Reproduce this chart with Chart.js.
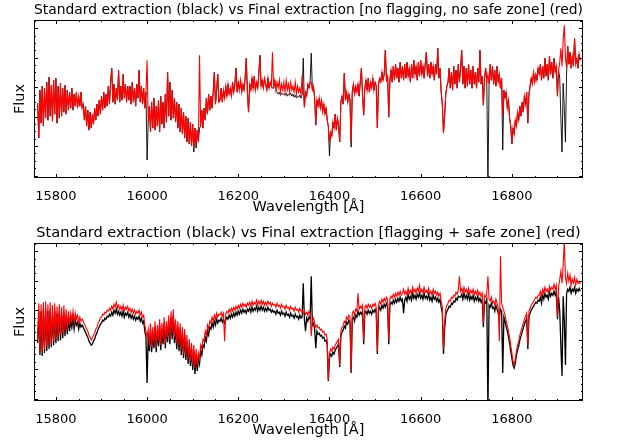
<!DOCTYPE html>
<html>
<head>
<meta charset="utf-8">
<script src="https://cdn.jsdelivr.net/npm/chart.js@4.4.0/dist/chart.umd.min.js"></script>
<style>
body { margin: 0; background: #fff; }
.panel { position: absolute; left: 0; width: 620px; height: 223px; }
</style>
</head>
<body>
<div class="panel" style="top:0"><canvas id="topPanel" width="620" height="223"></canvas></div>
<div class="panel" style="top:223px"><canvas id="bottomPanel" width="620" height="223"></canvas></div>
<script>
// wavelength grid (Angstrom), one row = 100 A
var wavelength = [
  15760,15762.5,15765,15767.5,15770,15772.5,15775,15777.5,15780,15782.5,15785,15787.5,15790,15792.5,15795,15797.5,15800,15802.5,15805,15807.5,15810,15812.5,15815,15817.5,15820,15822.5,15825,15827.5,15830,15832.5,15835,15837.5,15840,15842.5,15845,15847.5,15850,15852.5,15855,15857.5,
  15860,15862.5,15865,15867.5,15870,15872.5,15875,15877.5,15880,15882.5,15885,15887.5,15890,15892.5,15895,15897.5,15900,15902.5,15905,15907.5,15910,15912.5,15915,15917.5,15920,15922.5,15925,15927.5,15930,15932.5,15935,15937.5,15940,15942.5,15945,15947.5,15950,15952.5,15955,15957.5,
  15960,15962.5,15965,15967.5,15970,15972.5,15975,15977.5,15980,15982.5,15985,15987.5,15990,15992.5,15995,15997.5,16000,16002.5,16005,16007.5,16010,16012.5,16015,16017.5,16020,16022.5,16025,16027.5,16030,16032.5,16035,16037.5,16040,16042.5,16045,16047.5,16050,16052.5,16055,16057.5,
  16060,16062.5,16065,16067.5,16070,16072.5,16075,16077.5,16080,16082.5,16085,16087.5,16090,16092.5,16095,16097.5,16100,16102.5,16105,16107.5,16110,16112.5,16115,16117.5,16120,16122.5,16125,16127.5,16130,16132.5,16135,16137.5,16140,16142.5,16145,16147.5,16150,16152.5,16155,16157.5,
  16160,16162.5,16165,16167.5,16170,16172.5,16175,16177.5,16180,16182.5,16185,16187.5,16190,16192.5,16195,16197.5,16200,16202.5,16205,16207.5,16210,16212.5,16215,16217.5,16220,16222.5,16225,16227.5,16230,16232.5,16235,16237.5,16240,16242.5,16245,16247.5,16250,16252.5,16255,16257.5,
  16260,16262.5,16265,16267.5,16270,16272.5,16275,16277.5,16280,16282.5,16285,16287.5,16290,16292.5,16295,16297.5,16300,16302.5,16305,16307.5,16310,16312.5,16315,16317.5,16320,16322.5,16325,16327.5,16330,16332.5,16335,16337.5,16340,16342.5,16345,16347.5,16350,16352.5,16355,16357.5,
  16360,16362.5,16365,16367.5,16370,16372.5,16375,16377.5,16380,16382.5,16385,16387.5,16390,16392.5,16395,16397.5,16400,16402.5,16405,16407.5,16410,16412.5,16415,16417.5,16420,16422.5,16425,16427.5,16430,16432.5,16435,16437.5,16440,16442.5,16445,16447.5,16450,16452.5,16455,16457.5,
  16460,16462.5,16465,16467.5,16470,16472.5,16475,16477.5,16480,16482.5,16485,16487.5,16490,16492.5,16495,16497.5,16500,16502.5,16505,16507.5,16510,16512.5,16515,16517.5,16520,16522.5,16525,16527.5,16530,16532.5,16535,16537.5,16540,16542.5,16545,16547.5,16550,16552.5,16555,16557.5,
  16560,16562.5,16565,16567.5,16570,16572.5,16575,16577.5,16580,16582.5,16585,16587.5,16590,16592.5,16595,16597.5,16600,16602.5,16605,16607.5,16610,16612.5,16615,16617.5,16620,16622.5,16625,16627.5,16630,16632.5,16635,16637.5,16640,16642.5,16645,16647.5,16650,16652.5,16655,16657.5,
  16660,16662.5,16665,16667.5,16670,16672.5,16675,16677.5,16680,16682.5,16685,16687.5,16690,16692.5,16695,16697.5,16700,16702.5,16705,16707.5,16710,16712.5,16715,16717.5,16720,16722.5,16725,16727.5,16730,16732.5,16735,16737.5,16740,16742.5,16745,16747.5,16750,16752.5,16755,16757.5,
  16760,16762.5,16765,16767.5,16770,16772.5,16775,16777.5,16780,16782.5,16785,16787.5,16790,16792.5,16795,16797.5,16800,16802.5,16805,16807.5,16810,16812.5,16815,16817.5,16820,16822.5,16825,16827.5,16830,16832.5,16835,16837.5,16840,16842.5,16845,16847.5,16850,16852.5,16855,16857.5,
  16860,16862.5,16865,16867.5,16870,16872.5,16875,16877.5,16880,16882.5,16885,16887.5,16890,16892.5,16895,16897.5,16900,16902.5,16905,16907.5,16910,16912.5,16915,16917.5,16920,16922.5,16925,16927.5,16930,16932.5,16935,16937.5,16940,16942.5,16945,16947.5,16950
];

// top panel: final extraction, no flagging / no safe zone (red)
var finalNoFlag = [
  0.75,0.40,0.88,0.55,0.92,0.52,0.90,0.60,0.96,0.58,1.01,0.62,0.93,0.57,0.98,0.64,1.00,0.55,0.92,0.60,0.95,0.62,0.90,0.66,0.93,0.64,0.88,0.68,0.86,0.70,0.90,0.68,0.84,0.72,0.86,0.70,0.82,0.72,0.86,0.70,
  0.74,0.58,0.72,0.52,0.68,0.48,0.66,0.50,0.64,0.54,0.70,0.58,0.74,0.62,0.78,0.64,0.82,0.68,0.86,0.70,0.84,0.72,0.92,0.74,0.96,1.10,0.76,0.94,0.74,0.90,0.78,1.08,0.76,0.92,0.78,1.04,0.80,0.94,0.76,0.92,
  0.78,0.92,0.74,0.96,0.76,0.90,0.72,0.94,0.80,1.08,0.76,0.92,0.74,0.90,0.70,0.86,1.18,0.56,0.72,0.46,0.76,0.50,0.80,0.48,0.72,0.52,0.78,0.46,0.82,0.54,0.76,0.50,0.84,0.56,1.06,0.62,0.96,0.58,0.88,0.60,
  0.80,0.56,0.76,0.50,0.74,0.46,0.70,0.44,0.66,0.40,0.62,0.36,0.60,0.34,0.56,0.32,0.54,0.30,0.50,0.33,0.48,0.36,1.23,0.52,0.68,0.50,0.70,0.58,0.80,0.64,0.84,0.68,0.82,0.70,0.86,1.06,0.74,0.88,1.04,0.76,
  0.78,0.90,0.76,0.88,0.80,0.92,0.82,0.94,0.84,0.90,0.82,0.96,0.86,0.94,1.10,0.86,0.96,0.88,0.98,0.86,0.94,0.88,1.00,1.20,0.86,0.66,0.94,0.88,1.00,0.90,1.02,0.88,0.96,0.90,1.04,1.23,0.92,0.98,0.90,1.00,
  0.94,0.88,1.00,0.90,0.96,0.92,1.26,0.90,0.98,0.88,0.96,0.90,0.98,0.86,0.94,0.88,0.96,0.86,0.98,0.88,0.94,0.86,0.96,0.88,0.92,0.86,0.96,0.84,0.92,0.86,0.90,0.84,1.03,0.88,0.71,0.86,0.82,0.94,0.90,0.96,
  0.96,0.88,0.92,0.80,0.53,0.78,0.72,0.80,0.70,0.78,0.66,0.74,0.64,0.70,0.58,0.52,0.36,0.46,0.42,0.56,0.50,0.64,0.48,0.60,0.52,0.36,0.76,0.82,0.74,1.05,0.78,0.86,0.76,0.84,0.78,0.36,0.86,0.94,0.84,0.92,
  0.86,0.94,0.82,0.96,1.10,0.84,0.63,0.90,0.98,0.88,1.00,0.86,0.96,0.90,1.00,0.88,0.96,0.92,0.50,0.94,1.00,0.96,1.06,0.98,1.04,1.28,0.98,1.02,0.61,0.98,1.08,0.96,1.12,0.98,1.14,1.00,1.10,0.96,1.16,1.00,
  1.12,0.98,1.14,1.00,1.16,1.02,1.10,0.96,1.14,1.00,1.18,1.04,1.12,0.98,1.16,1.02,1.18,1.04,1.12,1.00,1.14,1.26,1.02,1.14,1.00,1.16,1.04,1.12,0.98,1.14,1.04,1.30,1.00,1.10,0.86,0.74,0.45,0.62,0.84,0.92,
  0.96,1.10,0.90,1.06,0.88,1.12,0.94,1.08,0.90,1.14,0.96,1.10,1.28,0.94,1.12,0.90,1.10,0.92,1.14,0.94,1.08,0.90,1.12,0.94,1.06,0.90,1.10,0.96,1.28,0.94,1.02,0.73,1.00,1.10,0.96,1.04,0.94,1.14,0.98,1.12,
  0.94,1.08,0.92,1.12,0.96,1.04,0.90,1.00,0.62,0.88,0.80,0.86,0.70,0.78,0.60,0.52,0.34,0.50,0.44,0.58,0.52,0.66,0.58,0.72,0.62,0.76,0.66,0.82,0.74,0.86,0.55,0.84,0.92,1.00,0.94,1.06,0.96,1.04,0.98,1.10,
  1.04,1.14,0.98,1.12,1.00,1.20,1.02,1.14,0.98,1.22,1.04,1.16,1.00,1.20,1.06,1.12,0.82,1.08,1.16,1.30,1.12,1.38,1.53,1.20,1.10,1.32,1.14,1.26,1.10,1.22,1.12,1.40,1.14,1.20,1.10,1.24,1.18
];

// top panel: standard extraction (black)
var standardTop = [
  0.75,0.40,0.88,0.55,0.92,0.52,0.90,0.60,0.96,0.58,1.01,0.62,0.93,0.57,0.98,0.64,1.00,0.55,0.92,0.60,0.95,0.62,0.90,0.66,0.93,0.64,0.88,0.68,0.86,0.70,0.90,0.68,0.84,0.72,0.86,0.70,0.82,0.72,0.86,0.70,
  0.74,0.58,0.72,0.52,0.68,0.48,0.66,0.50,0.64,0.54,0.70,0.58,0.74,0.62,0.78,0.64,0.82,0.68,0.86,0.70,0.84,0.72,0.92,0.74,0.96,1.10,0.76,0.94,0.74,0.90,0.78,1.08,0.76,0.92,0.78,1.04,0.80,0.94,0.76,0.92,
  0.78,0.92,0.74,0.96,0.76,0.90,0.72,0.94,0.80,1.08,0.76,0.92,0.74,0.90,0.70,0.86,0.18,0.56,0.72,0.46,0.76,0.50,0.80,0.48,0.72,0.52,0.78,0.46,0.82,0.54,0.76,0.50,0.84,0.56,1.06,0.62,0.96,0.58,0.88,0.60,
  0.80,0.56,0.76,0.50,0.74,0.46,0.70,0.44,0.66,0.40,0.62,0.36,0.60,0.34,0.56,0.32,0.54,0.26,0.50,0.30,0.48,0.36,0.50,0.52,0.68,0.50,0.70,0.58,0.80,0.64,0.84,0.68,0.82,0.70,0.86,1.06,0.74,0.88,1.04,0.76,
  0.78,0.90,0.76,0.88,0.80,0.92,0.82,0.94,0.84,0.90,0.82,0.96,0.86,0.94,1.10,0.86,0.96,0.88,0.98,0.86,0.94,0.88,1.00,1.20,0.86,0.66,0.94,0.88,1.00,0.90,1.02,0.88,0.96,0.90,1.04,1.23,0.92,0.98,0.90,1.00,
  0.94,0.88,1.00,0.90,0.96,0.92,0.90,0.90,0.98,0.88,0.86,0.84,0.86,0.83,0.85,0.84,0.84,0.83,0.85,0.82,0.84,0.83,0.85,0.82,0.84,0.81,0.83,0.80,0.82,0.81,0.83,0.80,0.84,1.20,0.71,0.86,0.82,0.94,0.90,0.96,
  1.25,0.88,0.92,0.80,0.53,0.78,0.72,0.80,0.70,0.78,0.66,0.74,0.64,0.70,0.58,0.52,0.22,0.46,0.42,0.56,0.50,0.64,0.48,0.60,0.52,0.36,0.76,0.82,0.74,1.05,0.78,0.86,0.76,0.84,0.78,0.31,0.86,0.94,0.84,0.92,
  0.86,0.94,0.82,0.96,1.10,0.84,0.63,0.90,0.98,0.88,1.00,0.86,0.96,0.90,1.00,0.88,0.96,0.92,0.50,0.94,1.00,0.96,1.06,0.98,1.04,1.28,0.98,1.02,0.61,0.98,1.08,0.96,1.12,0.98,1.14,1.00,1.10,0.96,1.16,1.00,
  1.12,0.98,1.14,1.00,1.16,1.02,1.10,0.96,1.14,1.00,1.18,1.04,1.12,0.98,1.16,1.02,1.18,1.04,1.12,1.00,1.14,1.26,1.02,1.14,1.00,1.16,1.04,1.12,0.98,1.14,1.04,1.30,1.00,1.10,0.86,0.74,0.45,0.62,0.84,0.92,
  0.96,1.10,0.90,1.06,0.88,1.12,0.94,1.08,0.90,1.14,0.96,1.10,1.28,0.94,1.12,0.90,1.10,0.92,1.14,0.94,1.08,0.90,1.12,0.94,1.06,0.90,1.10,0.96,1.28,0.94,1.02,0.73,1.00,1.10,0.96,-0.10,0.94,1.14,0.98,1.12,
  0.94,1.08,0.92,1.12,0.96,1.04,0.90,1.00,0.28,0.88,0.80,0.86,0.70,0.78,0.60,0.52,0.34,0.50,0.44,0.58,0.52,0.66,0.58,0.72,0.62,0.76,0.66,0.82,0.74,0.86,0.55,0.84,0.92,1.00,0.94,1.06,0.96,1.04,0.98,1.10,
  1.04,1.14,0.98,1.12,1.00,1.20,1.02,1.14,0.98,1.22,1.04,1.16,1.00,1.20,1.06,1.12,0.82,1.08,1.00,0.60,0.26,0.95,0.70,0.36,1.05,1.32,1.14,1.26,1.10,1.22,1.12,1.40,1.14,1.20,1.10,1.24,1.18
];

// bottom panel: final extraction, flagging + safe zone (red)
var finalFlag = [
  0.62,0.98,0.50,0.97,0.48,0.99,0.52,1.00,0.54,0.97,0.56,0.99,0.58,0.96,0.60,0.98,0.62,0.95,0.64,0.97,0.66,0.94,0.68,0.96,0.70,0.92,0.72,0.90,0.76,0.88,0.80,0.90,0.78,0.88,0.82,0.86,0.78,0.84,0.80,0.82,
  0.80,0.77,0.75,0.72,0.70,0.66,0.64,0.61,0.63,0.66,0.68,0.72,0.74,0.78,0.80,0.83,0.84,0.87,0.86,0.89,0.88,0.91,0.90,0.93,0.91,0.95,0.92,0.97,0.94,0.99,0.93,0.96,0.92,0.95,0.91,0.96,0.90,0.94,0.92,0.95,
  0.90,0.93,0.89,0.92,0.88,0.91,0.87,0.90,0.88,0.91,0.86,0.89,0.84,0.86,0.76,0.70,0.64,0.72,0.56,0.78,0.54,0.74,0.58,0.80,0.54,0.76,0.60,0.82,0.56,0.78,0.62,0.84,0.58,0.80,0.64,0.86,0.62,0.90,0.68,0.92,
  0.64,0.82,0.58,0.80,0.56,0.78,0.52,0.74,0.48,0.72,0.46,0.66,0.42,0.62,0.40,0.58,0.36,0.56,0.33,0.52,0.36,0.48,0.42,0.56,0.52,0.62,0.60,0.70,0.66,0.76,0.72,0.80,0.78,0.84,0.80,0.86,0.82,0.88,0.84,0.87,
  0.86,0.89,0.85,0.88,0.60,0.87,0.90,0.88,0.92,0.89,0.93,0.90,0.94,0.91,0.95,0.92,0.96,0.93,0.97,0.94,0.98,0.95,0.97,0.94,0.98,0.96,0.99,0.95,1.00,0.96,0.99,0.97,1.01,0.96,1.00,0.97,1.01,0.97,1.00,0.96,
  0.99,0.96,1.00,0.97,0.99,0.95,0.98,0.96,0.97,0.94,0.98,0.95,0.96,0.93,0.97,0.94,0.95,0.92,0.96,0.93,0.94,0.91,0.95,0.92,0.93,0.90,0.94,0.91,0.92,0.89,0.93,0.90,0.91,0.88,0.90,0.87,0.89,0.86,0.90,0.88,
  0.65,0.80,0.83,0.78,0.74,0.76,0.73,0.74,0.71,0.72,0.69,0.70,0.66,0.67,0.62,0.21,0.48,0.52,0.50,0.54,0.52,0.56,0.58,0.60,0.62,0.36,0.70,0.74,0.76,0.80,0.78,0.84,0.82,0.86,0.84,0.30,0.88,0.90,0.86,0.92,
  0.90,1.08,0.92,0.95,0.93,0.96,0.61,0.94,0.96,0.93,0.97,0.94,0.96,0.93,0.97,0.95,0.98,0.94,0.50,0.96,1.00,0.97,1.02,0.99,1.03,1.00,1.04,1.01,0.61,1.02,1.05,1.03,1.07,1.04,1.08,1.05,1.09,1.06,1.10,1.06,
  1.08,1.12,1.07,1.10,1.06,1.13,1.08,1.11,1.07,1.14,1.09,1.12,1.08,1.13,1.10,1.16,1.09,1.12,1.08,1.14,1.09,1.11,1.08,1.13,1.07,1.10,1.06,1.12,1.08,1.10,1.06,1.09,1.05,1.08,1.00,0.94,0.52,0.78,0.92,0.96,
  0.98,1.01,1.00,1.04,1.03,1.06,1.05,1.09,1.07,1.11,1.25,1.10,1.13,1.08,1.14,1.09,1.12,1.08,1.13,1.07,1.11,1.08,1.12,1.06,1.10,1.07,1.11,1.06,1.09,1.05,1.08,0.78,1.06,1.04,1.08,1.25,1.02,1.00,1.04,0.98,
  1.00,0.96,1.02,0.98,0.94,0.60,1.45,0.98,0.94,0.90,0.86,0.80,0.76,0.70,0.64,0.56,0.48,0.40,0.36,0.42,0.50,0.56,0.60,0.66,0.70,0.74,0.78,0.82,0.85,0.88,0.56,0.90,0.93,0.96,0.98,1.00,1.02,1.04,1.03,1.06,
  1.06,1.10,1.04,1.12,1.08,1.14,1.10,1.12,1.08,1.15,1.11,1.14,1.12,1.17,1.12,1.16,0.85,1.14,1.22,1.30,1.18,1.36,1.60,1.24,1.18,1.28,1.20,1.26,1.16,1.22,1.18,1.24,1.16,1.22,1.18,1.20,1.17
];

// bottom panel: standard extraction (black)
var standardBottom = [
  0.58,0.90,0.46,0.90,0.45,0.92,0.48,0.93,0.50,0.90,0.52,0.92,0.54,0.89,0.56,0.90,0.58,0.88,0.60,0.90,0.61,0.87,0.63,0.89,0.65,0.85,0.67,0.83,0.70,0.81,0.74,0.83,0.72,0.81,0.76,0.79,0.72,0.78,0.74,0.76,
  0.74,0.71,0.69,0.66,0.64,0.60,0.58,0.56,0.57,0.60,0.62,0.66,0.68,0.72,0.74,0.77,0.78,0.81,0.80,0.83,0.82,0.85,0.84,0.87,0.85,0.89,0.86,0.91,0.88,0.92,0.87,0.90,0.86,0.89,0.85,0.90,0.84,0.88,0.86,0.89,
  0.84,0.87,0.83,0.86,0.82,0.85,0.81,0.84,0.82,0.85,0.80,0.83,0.78,0.80,0.70,0.64,0.18,0.66,0.50,0.72,0.49,0.68,0.53,0.74,0.49,0.70,0.55,0.76,0.51,0.72,0.57,0.78,0.53,0.74,0.59,0.80,0.57,0.84,0.62,0.86,
  0.58,0.76,0.52,0.74,0.50,0.72,0.46,0.68,0.43,0.66,0.41,0.60,0.37,0.56,0.35,0.52,0.31,0.50,0.27,0.46,0.30,0.43,0.37,0.50,0.46,0.56,0.54,0.64,0.60,0.70,0.66,0.74,0.72,0.78,0.74,0.80,0.76,0.82,0.78,0.81,
  0.80,0.83,0.79,0.82,0.78,0.81,0.84,0.82,0.86,0.83,0.87,0.84,0.88,0.85,0.89,0.86,0.90,0.87,0.91,0.88,0.92,0.89,0.91,0.88,0.92,0.90,0.93,0.89,0.94,0.90,0.93,0.91,0.95,0.90,0.94,0.91,0.95,0.91,0.94,0.90,
  0.93,0.90,0.94,0.91,0.92,0.89,0.91,0.89,0.90,0.87,0.91,0.88,0.89,0.86,0.90,0.87,0.88,0.85,0.89,0.86,0.87,0.84,0.88,0.85,0.86,0.83,0.87,0.84,0.85,0.82,0.86,0.83,0.84,1.18,0.82,0.70,0.83,0.80,0.84,0.82,
  1.25,0.76,0.78,0.72,0.53,0.70,0.67,0.68,0.65,0.66,0.63,0.64,0.60,0.61,0.56,0.20,0.43,0.47,0.45,0.49,0.47,0.51,0.53,0.55,0.57,0.34,0.65,0.69,0.71,0.75,0.73,0.79,0.77,0.81,0.79,0.28,0.82,0.84,0.80,0.86,
  0.84,0.90,0.86,0.89,0.87,0.90,0.57,0.88,0.90,0.87,0.91,0.88,0.90,0.87,0.91,0.89,0.92,0.88,0.47,0.90,0.94,0.91,0.96,0.93,0.97,0.94,0.98,0.95,0.57,0.96,0.99,0.97,1.01,0.98,1.02,0.99,1.03,1.00,1.04,1.00,
  1.02,0.88,1.01,1.04,1.00,1.07,1.02,1.05,1.01,1.08,1.03,1.06,1.02,1.07,1.04,1.08,1.03,1.06,1.02,1.08,1.03,1.05,1.02,1.07,1.01,1.04,1.00,1.06,1.02,1.04,1.00,1.03,0.99,1.02,0.94,0.88,0.47,0.72,0.86,0.90,
  0.92,0.95,0.94,0.98,0.97,1.00,0.99,1.03,1.01,1.05,1.04,1.04,1.07,1.02,1.08,1.03,1.06,1.02,1.07,1.01,1.05,1.02,1.06,1.00,1.04,1.01,1.05,1.00,1.03,0.99,1.02,0.74,1.00,0.98,1.02,-0.10,0.96,0.94,0.98,0.93,
  0.94,0.90,0.96,0.92,0.88,0.84,0.92,0.90,0.28,0.84,0.80,0.74,0.70,0.64,0.58,0.50,0.43,0.36,0.33,0.38,0.46,0.51,0.55,0.61,0.65,0.69,0.73,0.77,0.80,0.83,0.52,0.85,0.88,0.91,0.93,0.95,0.97,0.99,0.98,1.01,
  1.00,1.04,0.98,1.06,1.02,1.08,1.04,1.06,1.02,1.09,1.05,1.08,1.06,1.10,1.06,1.10,0.82,1.04,0.90,0.55,0.25,1.05,0.80,0.36,1.08,1.12,1.10,1.14,1.08,1.12,1.10,1.14,1.08,1.12,1.10,1.13,1.10
];

var xTickValues = [15800, 16000, 16200, 16400, 16600, 16800];
var yTickValues = [0.025, 0.32, 0.615, 0.91, 1.205, 1.50];

Chart.defaults.font.family = 'DejaVu Sans';
Chart.defaults.font.size = 13;
Chart.defaults.color = '#000';

// frame + inward major/minor ticks on all four sides
var frameTicks = {
    id: 'frameTicks',
    afterDatasetsDraw: function(chart) {
        var ctx = chart.ctx, a = chart.chartArea, x = chart.scales.x, y = chart.scales.y;
        ctx.save();
        ctx.strokeStyle = '#000';
        ctx.lineWidth = 1;
        ctx.beginPath();
        for (var v = 15750; v <= 16950; v += 50) {
            if (v < x.min || v > x.max) continue;
            var px = Math.round(x.getPixelForValue(v)) + 0.5;
            var len = (v % 200 === 0) ? 4 : 2;
            ctx.moveTo(px, a.bottom); ctx.lineTo(px, a.bottom - len);
            ctx.moveTo(px, a.top); ctx.lineTo(px, a.top + len);
        }
        var step = (yTickValues[1] - yTickValues[0]) / 4;
        for (var k = -4; k <= 24; k++) {
            var val = yTickValues[0] + k * step;
            if (val < y.min || val > y.max) continue;
            var py = Math.round(y.getPixelForValue(val)) + 0.5;
            var l = (k % 4 === 0) ? 4 : 2;
            ctx.moveTo(a.left, py); ctx.lineTo(a.left + l, py);
            ctx.moveTo(a.right, py); ctx.lineTo(a.right - l, py);
        }
        ctx.stroke();
        ctx.strokeRect(Math.round(a.left) + 0.5, Math.round(a.top) + 0.5,
                       Math.round(a.width) - 1, Math.round(a.height) - 1);
        ctx.restore();
    }
};

function toPoints(values) {
    return wavelength.map(function(w, i) { return { x: w, y: values[i] }; });
}

function makePanel(id, title, redValues, blackValues, blackWidth) {
    return new Chart(document.getElementById(id).getContext('2d'), {
        type: 'line',
        data: {
            datasets: [{
                label: 'Final extraction',
                data: toPoints(redValues),
                borderColor: '#ff0000',
                borderWidth: 1.1,
                pointRadius: 0,
                tension: 0,
                order: 0
            }, {
                label: 'Standard extraction',
                data: toPoints(blackValues),
                borderColor: '#000000',
                borderWidth: blackWidth,
                pointRadius: 0,
                tension: 0,
                order: 1
            }]
        },
        options: {
            responsive: false,
            animation: false,
            events: [],
            layout: { padding: { left: 0, right: 37, top: 0, bottom: 0 } },
            plugins: {
                legend: { display: false },
                tooltip: { enabled: false },
                title: {
                    display: true,
                    text: title,
                    color: '#000',
                    fullSize: false,
                    font: { size: 14.6, weight: 'normal' },
                    padding: { top: 1.5, bottom: 1 }
                }
            },
            scales: {
                x: {
                    type: 'linear',
                    min: 15752,
                    max: 16956,
                    grid: { display: false },
                    border: { display: false },
                    afterFit: function(s) { s.height = 45; },
                    afterBuildTicks: function(s) {
                        s.ticks = xTickValues.map(function(v) { return { value: v }; });
                    },
                    ticks: {
                        color: '#000',
                        padding: 3,
                        maxRotation: 0,
                        autoSkip: false,
                        callback: function(v) { return String(v); }
                    },
                    title: {
                        display: true,
                        text: 'Wavelength [Å]',
                        color: '#000',
                        font: { size: 14.5 },
                        padding: { top: 0, bottom: 6.7 }
                    }
                },
                y: {
                    min: 0,
                    max: 1.583,
                    grid: { display: false },
                    border: { display: false },
                    ticks: { display: false },
                    afterFit: function(s) { s.width = 34; },
                    title: {
                        display: true,
                        text: 'Flux',
                        color: '#000',
                        font: { size: 14.5 },
                        padding: { top: 11.2, bottom: 0 }
                    }
                }
            }
        },
        plugins: [frameTicks]
    });
}

makePanel('topPanel', 'Standard extraction (black) vs Final extraction [no flagging, no safe zone] (red)',
          finalNoFlag, standardTop, 0.9);
makePanel('bottomPanel', 'Standard extraction (black) vs Final extraction [flagging + safe zone] (red)',
          finalFlag, standardBottom, 1.3);
</script>
</body>
</html>
